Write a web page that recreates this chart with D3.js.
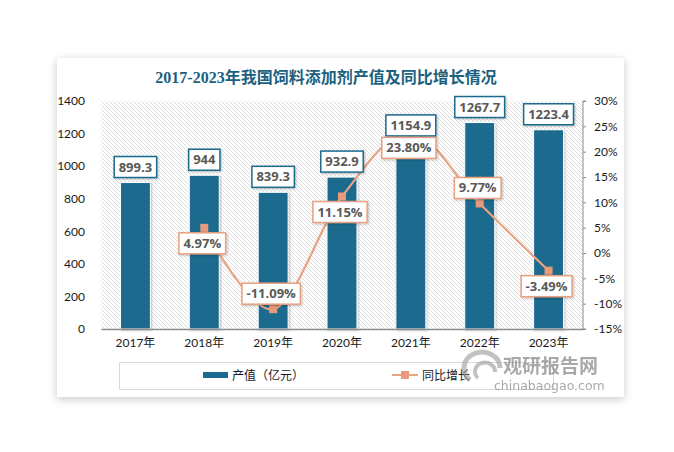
<!DOCTYPE html>
<html>
<head>
<meta charset="utf-8">
<script src="https://cdn.jsdelivr.net/npm/d3@7/dist/d3.min.js"></script>
<style>
  html, body { margin: 0; padding: 0; background: #ffffff; }
  svg { display: block; }
  text { font-family: Lato, "Noto Sans CJK SC", sans-serif; }
</style>
</head>
<body>
<div id="chart"></div>
<script>
// ---- data ----
const years = ["2017年", "2018年", "2019年", "2020年", "2021年", "2022年", "2023年"];
const outputValues = [899.3, 944, 839.3, 932.9, 1154.9, 1267.7, 1223.4];
const growthValues = [null, 4.97, -11.09, 11.15, 23.80, 9.77, -3.49];
const leftTicks = [0, 200, 400, 600, 800, 1000, 1200, 1400];
const rightTicks = [-15, -10, -5, 0, 5, 10, 15, 20, 25, 30];
const titleText = "2017-2023年我国饲料添加剂产值及同比增长情况";
const seriesNames = ["产值（亿元）", "同比增长"];
// label placement for the growth labels (below / above marker)
const growthLabelSide = [null, "below", "above", "below", "below", "above", "below"];

const W = 674, H = 452;
const barColor = "#1b6b8e";
const lineColor = "#e9a282";
const markerColor = "#e89a7b";

const svg = d3.select("#chart").append("svg").attr("width", W).attr("height", H);
const defs = svg.append("defs");

// card shadow
const sh = defs.append("filter").attr("id", "cardShadow").attr("x", "-10%").attr("y", "-10%").attr("width", "120%").attr("height", "120%");
sh.append("feDropShadow").attr("dx", 0).attr("dy", 2).attr("stdDeviation", 4).attr("flood-color", "#000").attr("flood-opacity", 0.22);
const sh2 = defs.append("filter").attr("id", "smallShadow").attr("x", "-20%").attr("y", "-20%").attr("width", "150%").attr("height", "150%");
sh2.append("feDropShadow").attr("dx", 1).attr("dy", 1).attr("stdDeviation", 1).attr("flood-color", "#000").attr("flood-opacity", 0.25);

// hatch pattern
const pat = defs.append("pattern").attr("id", "hatch").attr("patternUnits", "userSpaceOnUse")
  .attr("width", 4).attr("height", 4);
pat.append("rect").attr("width", 4).attr("height", 4).attr("fill", "#ffffff");
pat.append("path").attr("d", "M-1,-1 L5,5 M-1,3 L1,5 M3,-1 L5,1").attr("stroke", "#d6d6d6").attr("stroke-width", 0.8);

// card
svg.append("rect").attr("x", 57).attr("y", 58).attr("width", 567).attr("height", 339)
  .attr("fill", "#ffffff").attr("filter", "url(#cardShadow)");

// title
svg.append("text").attr("x", 326).attr("y", 83).attr("text-anchor", "middle")
  .attr("font-size", 16).attr("font-weight", "bold").attr("fill", "#1d5f7e")
  .style("font-family", "'Liberation Serif', 'Noto Sans CJK SC', serif")
  .text(titleText);

// plot geometry
const plotL = 101, plotR = 583, plotT = 101, plotB = 329;

const x = d3.scaleBand().domain(years).range([plotL, plotR]).paddingInner(0.565).paddingOuter(0.2825);
const yL = d3.scaleLinear().domain([0, 1400]).range([plotB, plotT]);
const yR = d3.scaleLinear().domain([-15, 30]).range([plotB, plotT]);
const cx = d => x(d) + x.bandwidth() / 2;

// plot area hatch
svg.append("rect").attr("x", plotL).attr("y", plotT).attr("width", plotR - plotL).attr("height", plotB - plotT)
  .attr("fill", "url(#hatch)");

// left axis (no line)
const gL = svg.append("g").attr("transform", `translate(${plotL},0)`)
  .call(d3.axisLeft(yL).tickValues(leftTicks).tickSize(0).tickPadding(16).tickFormat(d3.format("d")));
gL.select(".domain").remove();
gL.selectAll("text").attr("font-size", 12).attr("fill", "#1a1a1a").style("font-family", "Lato, 'Noto Sans CJK SC', sans-serif");

// right axis
const gR = svg.append("g").attr("transform", `translate(${plotR},0)`)
  .call(d3.axisRight(yR).tickValues(rightTicks).tickSize(3).tickPadding(8).tickFormat(d => d + "%"));
gR.select(".domain").attr("stroke", "#8c8c8c").attr("d", `M3,${plotT}H0V${plotB}H3`);
gR.selectAll(".tick line").attr("stroke", "#8c8c8c");
gR.selectAll("text").attr("font-size", 12).attr("fill", "#1a1a1a").style("font-family", "Lato, 'Noto Sans CJK SC', sans-serif");

// bars
svg.append("g").selectAll("rect").data(years).join("rect")
  .attr("x", d => x(d))
  .attr("y", (d, i) => yL(outputValues[i]))
  .attr("width", x.bandwidth())
  .attr("height", (d, i) => yL(0) - yL(outputValues[i]))
  .attr("fill", barColor).attr("stroke", "#ffffff").attr("stroke-width", 1)
  .attr("filter", "url(#smallShadow)");

// bottom axis
const gB = svg.append("g").attr("transform", `translate(0,${plotB})`)
  .call(d3.axisBottom(x).tickSize(0).tickPadding(9));
gB.select(".domain").attr("stroke", "#8c8c8c").attr("stroke-width", 1.5);
gB.selectAll("text").attr("font-size", 12).attr("fill", "#1a1a1a").style("font-family", "Lato, 'Noto Sans CJK SC', sans-serif");

// line
const pts = years.map((d, i) => ({ year: d, v: growthValues[i] })).filter(p => p.v !== null);
const line = d3.line().x(p => cx(p.year)).y(p => yR(p.v)).curve(d3.curveCardinal.tension(0));
svg.append("path").datum(pts).attr("d", line).attr("fill", "none")
  .attr("stroke", lineColor).attr("stroke-width", 2.2);

svg.append("g").selectAll("rect").data(pts).join("rect")
  .attr("x", p => cx(p.year) - 4).attr("y", p => yR(p.v) - 4)
  .attr("width", 8).attr("height", 8).attr("fill", markerColor);

// labels helper
function labelBox(g, cxv, text, border, yTop) {
  const grp = g.append("g");
  const t = grp.append("text").attr("x", cxv).attr("y", yTop + 15).attr("text-anchor", "middle")
    .attr("font-size", 13).attr("font-weight", "bold").attr("fill", "#595959")
    .style("font-family", "'Open Sans', 'Noto Sans CJK SC', sans-serif").text(text);
  const w = t.node().getComputedTextLength() + 9;
  grp.insert("rect", "text").attr("x", cxv - w / 2).attr("y", yTop).attr("width", w).attr("height", 21)
    .attr("fill", "#ffffff").attr("stroke", border).attr("stroke-width", 1.5)
    .attr("filter", "url(#smallShadow)");
}

const labG = svg.append("g");
years.forEach((d, i) => {
  labelBox(labG, cx(d), String(outputValues[i]), barColor, yL(outputValues[i]) - 26);
});
pts.forEach(p => {
  const i = years.indexOf(p.year);
  const my = yR(p.v);
  const top = growthLabelSide[i] === "above" ? my - 5 - 21 : my + 5;
  labelBox(labG, cx(p.year) - 2, p.v.toFixed(2) + "%", "#e9a07f", top);
});

// legend
const lg = svg.append("g");
lg.append("rect").attr("x", 119.5).attr("y", 362.5).attr("width", 434).attr("height", 27)
  .attr("fill", "#ffffff").attr("stroke", "#d9d9d9").attr("stroke-width", 1);
lg.append("rect").attr("x", 203).attr("y", 372).attr("width", 25).attr("height", 6).attr("fill", barColor);
lg.append("text").attr("x", 232).attr("y", 380).attr("font-size", 12).attr("fill", "#1a1a1a")
  .style("font-family", "'Noto Sans CJK SC', sans-serif").text(seriesNames[0]);
lg.append("line").attr("x1", 392).attr("x2", 418).attr("y1", 375).attr("y2", 375)
  .attr("stroke", lineColor).attr("stroke-width", 2);
lg.append("rect").attr("x", 401).attr("y", 371).attr("width", 8).attr("height", 8).attr("fill", markerColor);
lg.append("text").attr("x", 422).attr("y", 380).attr("font-size", 12).attr("fill", "#1a1a1a")
  .style("font-family", "'Noto Sans CJK SC', sans-serif").text(seriesNames[1]);

// watermark
const wm = svg.append("g").attr("opacity", 0.6);
wm.append("path").attr("d", "M470,380 A18,16 0 1,1 500,368").attr("fill", "none").attr("stroke", "#9a9a9a").attr("stroke-width", 5);
wm.append("path").attr("d", "M478,378 A10,9 0 1,1 495,372").attr("fill", "none").attr("stroke", "#9a9a9a").attr("stroke-width", 4);
wm.append("text").attr("x", 503).attr("y", 373).attr("font-size", 19).attr("font-weight", "bold")
  .attr("fill", "#707070").style("font-family", "'Noto Sans CJK SC', sans-serif").text("观研报告网");
wm.append("text").attr("x", 494).attr("y", 390).attr("font-size", 12.5)
  .attr("fill", "#707070").style("font-family", "'DejaVu Sans', sans-serif").text("chinabaogao.com");
</script>
</body>
</html>
